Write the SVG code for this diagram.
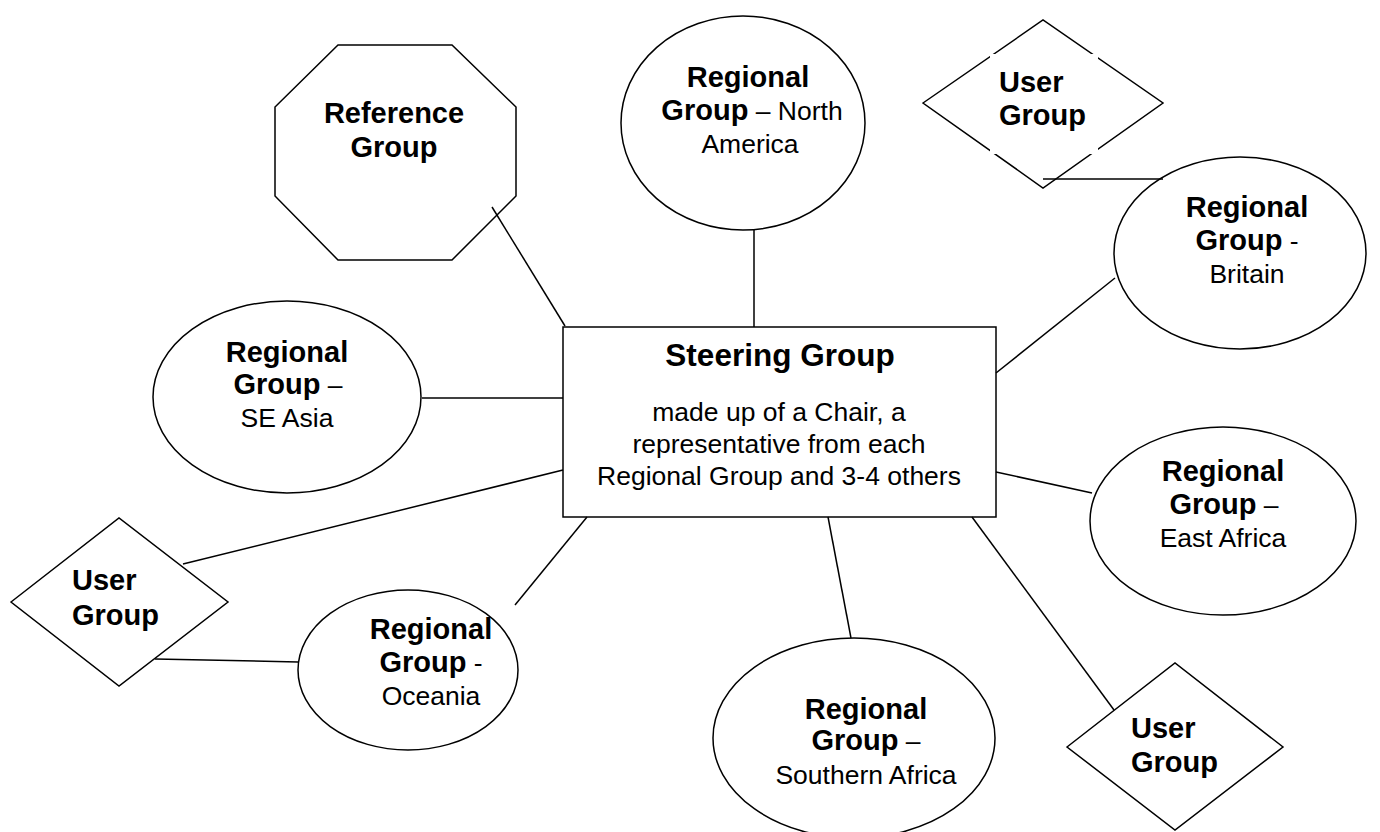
<svg xmlns="http://www.w3.org/2000/svg" width="1380" height="832" viewBox="0 0 1380 832">
<style>
.s{fill:#fff;stroke:#000;stroke-width:1.5}
.c line{stroke:#000;stroke-width:1.5}
text{font-family:"Liberation Sans",Arial,sans-serif;fill:#000}
.b{font-weight:bold;font-size:29px}
.r{font-weight:normal;font-size:26.5px}
.m{text-anchor:middle}
</style>
<rect width="1380" height="832" fill="#fff"/>
<g id="reference-group">
<polygon class="s" points="338,45 452,45 516,107 516,196 452,260 338,260 275,196 275,107"/>
<text class="b m" x="394" y="123">Reference</text>
<text class="b m" x="394" y="157">Group</text>
</g>
<g id="rg-north-america">
<ellipse class="s" cx="743" cy="123" rx="122" ry="107"/>
<text class="b m" x="748" y="87">Regional</text>
<text class="m" x="752" y="120"><tspan class="b">Group</tspan><tspan class="r"> – North</tspan></text>
<text class="r m" x="750" y="153">America</text>
</g>
<g id="user-group-top">
<polygon class="s" points="923,103 1043,20 1163,103 1043,188"/>
<rect x="990" y="54" width="108" height="100" fill="#fff"/>
<text class="b" x="999" y="92">User</text>
<text class="b" x="999" y="125">Group</text>
</g>
<g id="rg-britain">
<ellipse class="s" cx="1240" cy="253" rx="126" ry="96"/>
<text class="b m" x="1247" y="217">Regional</text>
<text class="m" x="1247" y="250"><tspan class="b">Group</tspan><tspan class="r"> -</tspan></text>
<text class="r m" x="1247" y="283">Britain</text>
</g>
<g id="rg-se-asia">
<ellipse class="s" cx="287" cy="397" rx="134" ry="96"/>
<text class="b m" x="287" y="362">Regional</text>
<text class="m" x="288" y="394"><tspan class="b">Group</tspan><tspan class="r"> –</tspan></text>
<text class="r m" x="287" y="427">SE Asia</text>
</g>
<g id="steering-group">
<rect class="s" x="563" y="327" width="433" height="190"/>
<text class="m" x="780" y="366" font-weight="bold" font-size="31.5px">Steering Group</text>
<text class="r m" x="779" y="421">made up of a Chair, a</text>
<text class="r m" x="779" y="453">representative from each</text>
<text class="r m" x="779" y="485">Regional Group and 3-4 others</text>
</g>
<g id="rg-east-africa">
<ellipse class="s" cx="1223" cy="521" rx="133" ry="94"/>
<text class="b m" x="1223" y="481">Regional</text>
<text class="m" x="1224" y="514"><tspan class="b">Group</tspan><tspan class="r"> –</tspan></text>
<text class="r m" x="1223" y="547">East Africa</text>
</g>
<g id="user-group-left">
<polygon class="s" points="11,602 119,518 228,602 119,686"/>
<text class="b" x="72" y="590">User</text>
<text class="b" x="72" y="625">Group</text>
</g>
<g id="rg-oceania">
<ellipse class="s" cx="408" cy="670" rx="110" ry="80"/>
<text class="b m" x="431" y="639">Regional</text>
<text class="m" x="431" y="672"><tspan class="b">Group</tspan><tspan class="r"> -</tspan></text>
<text class="r m" x="431" y="705">Oceania</text>
</g>
<g id="rg-southern-africa">
<ellipse class="s" cx="854" cy="738" rx="141" ry="100"/>
<text class="b m" x="866" y="719">Regional</text>
<text class="m" x="866" y="750"><tspan class="b">Group</tspan><tspan class="r"> –</tspan></text>
<text class="r m" x="866" y="784">Southern Africa</text>
</g>
<g id="user-group-bottom-right">
<polygon class="s" points="1067,747 1175,663 1283,747 1175,830"/>
<text class="b" x="1131" y="738">User</text>
<text class="b" x="1131" y="772">Group</text>
</g>
<g id="connectors" class="c">
<line x1="492" y1="207" x2="565" y2="326"/>
<line x1="754" y1="230" x2="754" y2="327"/>
<line x1="1043" y1="179" x2="1163" y2="179"/>
<line x1="996" y1="373" x2="1115" y2="278"/>
<line x1="422" y1="398" x2="563" y2="398"/>
<line x1="996" y1="472" x2="1092" y2="493"/>
<line x1="563" y1="470" x2="183" y2="564"/>
<line x1="155" y1="659" x2="298" y2="662"/>
<line x1="587" y1="517" x2="515" y2="605"/>
<line x1="828" y1="517" x2="851" y2="638"/>
<line x1="972" y1="517" x2="1114" y2="710"/>
</g>
</svg>
